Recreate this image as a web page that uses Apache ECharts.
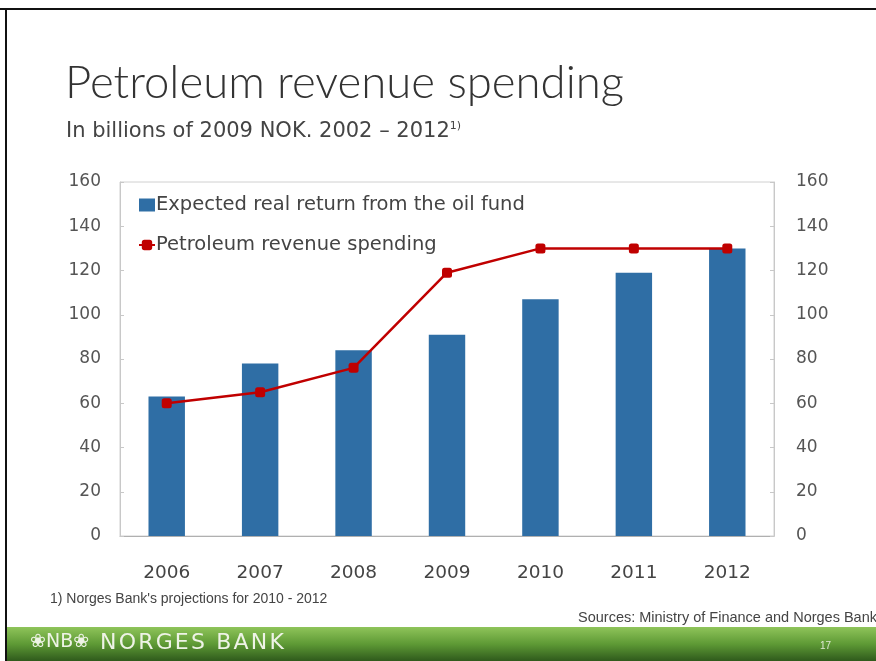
<!DOCTYPE html>
<html>
<head>
<meta charset="utf-8">
<script src="https://cdn.jsdelivr.net/npm/echarts@6/dist/echarts.min.js"></script>
<style>
  html, body { margin: 0; padding: 0; background: #fff; }
  #main { width: 876px; height: 661px; }
</style>
</head>
<body>
<div id="main"></div>
<script>
var years = ['2006', '2007', '2008', '2009', '2010', '2011', '2012'];
var expectedReturn = [63, 78, 84, 91, 107, 119, 130];
var spending = [60, 65, 76, 119, 130, 130, 130];
var yTicks = { min: 0, max: 160, interval: 20 };

var font = 'DejaVu Sans';
var narrow = '"Liberation Sans Narrow", "Liberation Sans"';

// base chart
var myChart = echarts.init(document.getElementById('main'));

var yAxisBase = function (pos) {
    return {
        type: 'value',
        position: pos,
        min: yTicks.min,
        max: yTicks.max,
        interval: yTicks.interval,
        axisLine: { show: true, lineStyle: { color: '#c8c8c8' } },
        axisTick: { show: true, inside: true, length: 4, lineStyle: { color: '#c8c8c8' } },
        splitLine: { show: false },
        axisLabel: {
            color: '#555', fontSize: 17, fontFamily: font,
            margin: pos === 'left' ? 19 : 22
        }
    };
};

// spaced-out footer wordmark
var bankName = 'NORGES BANK'.split('').join('\u200A');

myChart.setOption({
    animation: false,
    title: [{
        text: 'Petroleum revenue spending',
        left: 60, top: 55,
        textStyle: { fontFamily: 'Lato', fontWeight: 300, fontSize: 45.5, color: '#333' }
    }, {
        text: 'In billions of 2009 NOK. 2002 – 2012{s|1)}',
        left: 61, top: 116,
        textStyle: {
            fontFamily: font, fontWeight: 'normal', fontSize: 21, color: '#444',
            rich: { s: { fontSize: 11, verticalAlign: 'top', padding: [0, 0, 10, 0], color: '#444', fontFamily: font } }
        }
    }],
    legend: {
        orient: 'vertical',
        left: 133, top: 190,
        itemGap: 20,
        itemWidth: 16, itemHeight: 13,
        textStyle: { fontFamily: font, fontSize: 19.5, color: '#444', padding: [0, 0, 0, -4] },
        data: [
            { name: 'Expected real return from the oil fund', icon: 'rect' },
            { name: 'Petroleum revenue spending' }
        ]
    },
    grid: { left: 120, right: 102, top: 182, bottom: 125, show: true, borderColor: '#d0d0d0', borderWidth: 1 },
    xAxis: {
        type: 'category',
        data: years,
        axisLine: { lineStyle: { color: '#b0b0b0' } },
        axisTick: { inside: true, length: 5, lineStyle: { color: '#b0b0b0' } },
        axisLabel: { color: '#444', fontSize: 18.5, fontFamily: font, margin: 28 }
    },
    yAxis: [yAxisBase('left'), yAxisBase('right')],
    series: [{
        name: 'Expected real return from the oil fund',
        type: 'bar',
        data: expectedReturn,
        barWidth: '39%',
        itemStyle: { color: '#2f6ea5' }
    }, {
        name: 'Petroleum revenue spending',
        type: 'line',
        data: spending,
        symbol: 'roundRect',
        symbolSize: 10,
        lineStyle: { color: '#c00000', width: 2.5 },
        itemStyle: { color: '#c00000' }
    }],
    graphic: [
        // slide frame
        { type: 'rect', shape: { x: 0, y: 8, width: 876, height: 2 }, style: { fill: '#111' }, z: 10 },
        { type: 'rect', shape: { x: 5, y: 8, width: 2, height: 653 }, style: { fill: '#111' }, z: 10 },
        // footer band
        {
            type: 'rect', shape: { x: 7, y: 627, width: 869, height: 34 },
            style: {
                fill: new echarts.graphic.LinearGradient(0, 0, 0, 1, [
                    { offset: 0, color: '#8fc45a' },
                    { offset: 0.5, color: '#5e9a35' },
                    { offset: 1, color: '#2f5a1c' }
                ])
            }
        },
        {
            type: 'text', left: 30, top: 633,
            style: { text: '❀NB❀', fill: '#eef3e6', font: '19px "DejaVu Sans"' }
        },
        {
            type: 'text', left: 100, top: 632,
            style: { text: bankName, fill: '#eef3e6', font: '22px "DejaVu Sans"' }
        },
        {
            type: 'text', left: 820, top: 641,
            style: { text: '17', fill: '#dfe9d3', font: '10px "Liberation Sans"' }
        },
        // notes
        {
            type: 'text', left: 50, top: 592,
            style: { text: "1) Norges Bank's projections for 2010 - 2012", fill: '#444', font: '14px ' + narrow }
        },
        {
            type: 'text', left: 578, top: 610,
            style: { text: 'Sources: Ministry of Finance and Norges Bank', fill: '#444', font: '14.5px ' + narrow }
        }
    ]
});
</script>
</body>
</html>
